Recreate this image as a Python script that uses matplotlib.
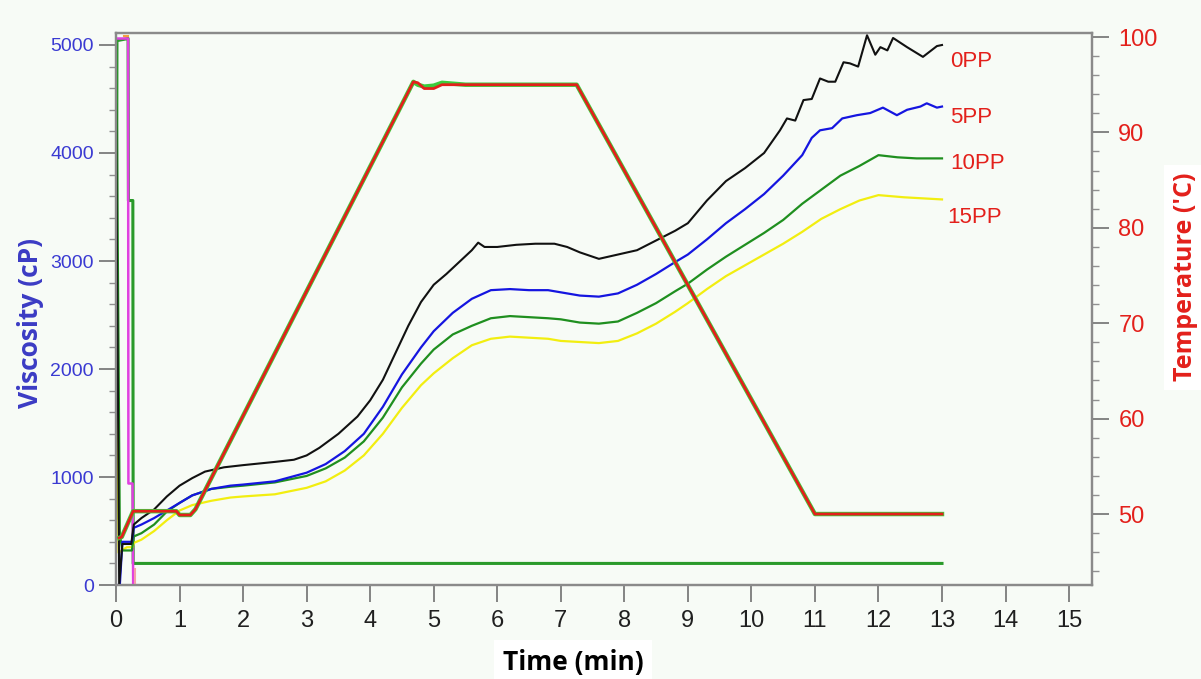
import numpy as np
import matplotlib
matplotlib.use("Agg")
import matplotlib.pyplot as plt
from matplotlib.ticker import MultipleLocator

# time (min) / viscosity (cP) for each sample
t_0pp = [0.0, 0.05, 0.1, 0.24, 0.28, 0.4, 0.6, 0.8, 1.0, 1.2, 1.4, 1.7, 2.0, 2.5, 2.8, 3.0, 3.2, 3.5,
         3.8, 4.0, 4.2, 4.4, 4.6, 4.8, 5.0, 5.2, 5.4, 5.6, 5.7, 5.8, 6.0, 6.3, 6.6, 6.9, 7.1, 7.3,
         7.6, 7.9, 8.2, 8.5, 8.8, 9.0, 9.3, 9.6, 9.9, 10.2, 10.45, 10.56, 10.69, 10.82, 10.95,
         11.08, 11.21, 11.32, 11.45, 11.55, 11.68, 11.82, 11.95, 12.03, 12.14, 12.23, 12.45,
         12.7, 12.92, 13.0]
v_0pp = [4450, 0, 380, 380, 560, 620, 700, 820, 920, 990, 1050, 1090, 1110, 1140, 1160, 1200, 1270,
         1400, 1560, 1710, 1900, 2150, 2400, 2620, 2780, 2880, 2990, 3100, 3170, 3130, 3130, 3150,
         3160, 3160, 3130, 3080, 3020, 3060, 3100, 3190, 3280, 3350, 3560, 3740, 3860, 4000, 4210,
         4320, 4300, 4490, 4500, 4690, 4660, 4660, 4840, 4830, 4800, 5090, 4910, 4980, 4950, 5065,
         4980, 4890, 4990, 5000]

t_5pp = [0.03, 0.06, 0.1, 0.25, 0.28, 0.4, 0.6, 0.8, 1.0, 1.2, 1.5, 1.8, 2.0, 2.5, 3.0, 3.3, 3.6,
         3.9, 4.2, 4.5, 4.8, 5.0, 5.3, 5.6, 5.9, 6.2, 6.5, 6.8, 7.0, 7.3, 7.6, 7.9, 8.2, 8.5, 8.8,
         9.0, 9.3, 9.6, 9.9, 10.2, 10.5, 10.8, 10.95, 11.08, 11.27, 11.43, 11.66, 11.87, 12.07,
         12.29, 12.45, 12.66, 12.76, 12.92, 13.0]
v_5pp = [0, 0, 400, 400, 530, 560, 620, 690, 760, 830, 890, 920, 930, 960, 1040, 1120, 1240, 1400,
         1650, 1950, 2200, 2350, 2520, 2650, 2730, 2740, 2730, 2730, 2710, 2680, 2670, 2700, 2780,
         2880, 2990, 3060, 3200, 3350, 3480, 3620, 3790, 3980, 4140, 4210, 4230, 4320, 4350, 4370,
         4420, 4350, 4400, 4430, 4460, 4420, 4430]

t_10pp = [0.005, 0.06, 0.1, 0.25, 0.28, 0.4, 0.6, 0.8, 1.0, 1.2, 1.5, 1.8, 2.0, 2.5, 3.0, 3.3, 3.6,
          3.9, 4.2, 4.5, 4.8, 5.0, 5.3, 5.6, 5.9, 6.2, 6.5, 6.8, 7.0, 7.3, 7.6, 7.9, 8.2, 8.5, 8.8,
          9.0, 9.3, 9.6, 9.9, 10.2, 10.5, 10.8, 11.1, 11.4, 11.7, 12.0, 12.3, 12.6, 13.0]
v_10pp = [5000, 470, 320, 320, 450, 480, 560, 680, 760, 830, 890, 910, 920, 950, 1010, 1080, 1180,
          1330, 1550, 1830, 2050, 2180, 2320, 2400, 2470, 2490, 2480, 2470, 2460, 2430, 2420, 2440,
          2520, 2610, 2720, 2790, 2920, 3040, 3150, 3260, 3380, 3530, 3660, 3790, 3880, 3980, 3960,
          3950, 3950]

t_15pp = [0.0, 0.04, 0.17, 0.26, 0.28, 0.4, 0.6, 0.8, 1.0, 1.2, 1.5, 1.8, 2.0, 2.5, 3.0, 3.3, 3.6,
          3.9, 4.2, 4.5, 4.8, 5.0, 5.3, 5.6, 5.9, 6.2, 6.5, 6.8, 7.0, 7.3, 7.6, 7.9, 8.2, 8.5, 8.8,
          9.0, 9.3, 9.6, 9.9, 10.2, 10.5, 10.8, 11.1, 11.4, 11.7, 12.0, 12.4, 13.0]
v_15pp = [4000, 300, 350, 350, 390, 420, 500, 600, 690, 740, 780, 810, 820, 840, 900, 960, 1060,
          1200, 1400, 1640, 1850, 1960, 2100, 2220, 2280, 2300, 2290, 2280, 2260, 2250, 2240, 2260,
          2330, 2420, 2530, 2610, 2740, 2860, 2960, 3060, 3160, 3270, 3390, 3480, 3560, 3610, 3590,
          3570]

# paddle speed traces at the start
t_speed = [0.0, 0.015, 0.19, 0.195, 0.265, 0.27, 13.0]
v_speed = [620, 5040, 5060, 3560, 3560, 200, 200]
t_speed2 = [0.02, 0.19, 0.195, 0.26, 0.27]
v_speed2 = [5060, 5060, 940, 940, 0]

# temperature profile (°C)
t_temp = [0.05, 0.09, 0.27, 0.95, 1.0, 1.17, 1.25, 4.68, 4.75, 4.85, 5.0, 5.13, 5.5, 7.25, 11.0, 13.0]
temp = [47.5, 47.6, 50.3, 50.3, 49.9, 49.9, 50.5, 95.3, 95.2, 94.6, 94.6, 95.0, 95.0, 95.0, 50.0, 50.0]
temp_b = [47.5, 47.6, 50.3, 50.3, 49.9, 49.9, 50.5, 95.3, 95.0, 94.8, 94.9, 95.2, 95.0, 95.0, 50.0, 50.0]

labels = ["0PP", "5PP", "10PP", "15PP"]
label_t = [13.13, 13.13, 13.13, 13.08]
label_v = [4843, 4333, 3907, 3407]

bg = "#f7fbf6"
red = "#e3201b"
blue_txt = "#3a3ad2"
narrow = ["Liberation Sans Narrow", "Liberation Sans", "DejaVu Sans"]

fig = plt.figure(figsize=(12.01, 6.79), dpi=100, facecolor=bg)
ax = fig.add_axes([0.0966, 0.1384, 0.8126, 0.813])
ax.set_facecolor(bg)
ax2 = ax.twinx()

ax.plot(t_speed, v_speed, color="#2a9a2a", lw=2.2, zorder=3)
ax.plot(t_speed2, v_speed2, color="#e040e0", lw=1.8, zorder=3)
ax.plot([0.3, 0.3], [0, 150], color="#f4a0a8", lw=1.5, zorder=3)
ax.plot([0.12, 0.19], [5080, 5080], color="#f4a040", lw=1.5, zorder=3)
ax.plot(t_15pp, v_15pp, color="#f2ee10", lw=1.6, zorder=4)
ax.plot(t_10pp, v_10pp, color="#1f8f1f", lw=1.6, zorder=4)
ax.plot(t_5pp, v_5pp, color="#1515e0", lw=1.6, zorder=4)
ax.plot(t_0pp, v_0pp, color="#111111", lw=1.5, zorder=4)

ax2.plot(t_temp, temp_b, color="#3ccc3c", lw=3.2, zorder=2)
ax2.plot(t_temp, temp, color=red, lw=2.0, zorder=3)

for s, x, y in zip(labels, label_t, label_v):
    ax.text(x, y, s, color=red, fontsize=16, family=narrow, va="center", ha="left")

ax.set_xlim(0, 15.36)
ax.set_ylim(0, 5111)
ax2.set_ylim(42.56, 100.42)

ax.xaxis.set_major_locator(MultipleLocator(1))
ax.yaxis.set_major_locator(MultipleLocator(1000))
ax.yaxis.set_minor_locator(MultipleLocator(200))
ax2.yaxis.set_major_locator(MultipleLocator(10))
ax2.yaxis.set_minor_locator(MultipleLocator(2))

ax2.set_yticks([50, 60, 70, 80, 90, 100])
ax.tick_params(axis="x", length=12, width=1.2, color="#707070", pad=6, labelsize=17,
               labelcolor="#202020", labelfontfamily=narrow)
ax.tick_params(axis="y", which="major", length=12, width=1.2, color="#707070", pad=4,
               labelsize=14, labelcolor=blue_txt, labelfontfamily=narrow)
ax.tick_params(axis="y", which="minor", length=5, width=1, color="#909090")
ax2.tick_params(axis="y", which="major", length=12, width=1.2, color="#707070", pad=7,
                labelsize=17, labelcolor=red, labelfontfamily=narrow)
ax2.tick_params(axis="y", which="minor", length=5, width=1, color="#909090")

for a in (ax, ax2):
    for sp in a.spines.values():
        sp.set_color("#8a8a8a")
        sp.set_linewidth(1.6)

fig.text(0.025, 0.525, "Viscosity (cP)", rotation=90, ha="center", va="center",
         fontsize=19, fontweight="bold", color="#3b3bc4", family=["Open Sans", "DejaVu Sans"])
fig.text(0.9867, 0.592, "Temperature ('C)", rotation=90, ha="center", va="center",
         fontsize=18, fontweight="bold", color=red, family=["Open Sans", "DejaVu Sans"],
         bbox=dict(facecolor="white", edgecolor="none", pad=6))
fig.text(0.477, 0.025, "Time (min)", ha="center", va="center",
         fontsize=19, fontweight="bold", color="black", family=["Open Sans", "DejaVu Sans"],
         bbox=dict(facecolor="white", edgecolor="none", pad=6))

fig.savefig("out.png", dpi=100, facecolor=bg)
